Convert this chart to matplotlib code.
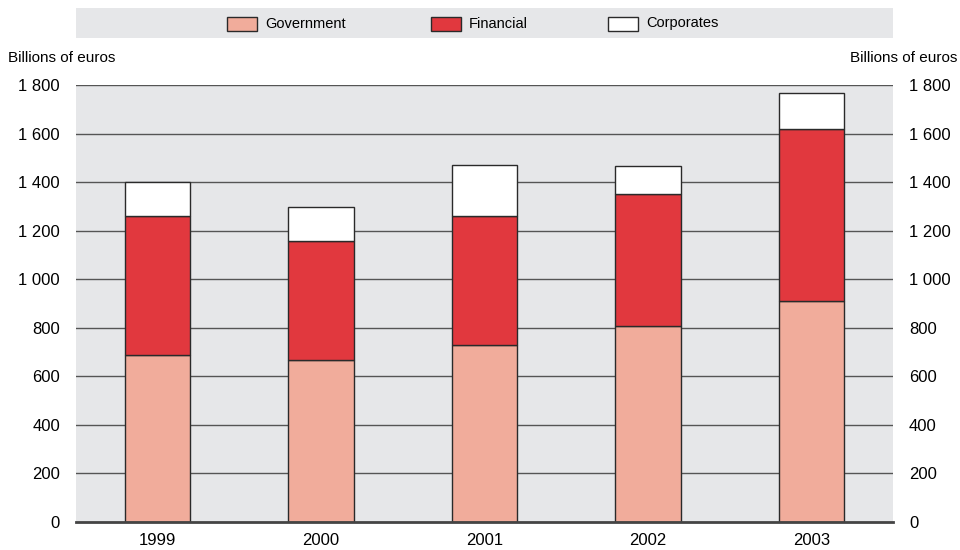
import matplotlib
matplotlib.use("Agg")
import matplotlib.pyplot as plt
from matplotlib.patches import Rectangle
from matplotlib.ticker import FuncFormatter
import numpy as np

# Debt securities issued, billions of euros
years = ["1999", "2000", "2001", "2002", "2003"]
government = [688, 666, 730, 808, 910]
financial = [573, 493, 530, 544, 707]
corporates = [139, 137, 210, 116, 151]

series_names = ["Government", "Financial", "Corporates"]
series_colors = ["#f1ac9b", "#e1383e", "#ffffff"]
y_ticks = [0, 200, 400, 600, 800, 1000, 1200, 1400, 1600, 1800]

plt.rcParams["font.family"] = ["Liberation Sans", "DejaVu Sans"]

W, H = 960, 550
fig = plt.figure(figsize=(9.6, 5.5), dpi=100)
ax = fig.add_axes([76 / W, 28 / H, 817 / W, 437 / H])
ax.set_facecolor("#e6e7e9")

x = np.arange(len(years))
width = 0.4
bottom = np.zeros(len(years))
for name, vals, col in zip(series_names, [government, financial, corporates], series_colors):
    ax.bar(x, vals, width, bottom=bottom, color=col, edgecolor="#2a2a2a",
           linewidth=1.0, label=name, zorder=3)
    bottom += np.array(vals)

ax.set_xlim(-0.5, len(years) - 0.5)
ax.set_ylim(0, 1800)
ax.set_yticks(y_ticks)
for t in y_ticks[1:]:
    ax.axhline(t, color="#555555", linewidth=1.0, zorder=1)
ax.axhline(0, color="#444444", linewidth=2.0, zorder=4, clip_on=False)

fmt = FuncFormatter(lambda v, p: f"{int(v):,}".replace(",", " "))
ax.yaxis.set_major_formatter(fmt)
ax.tick_params(axis="y", which="both", length=0, pad=11.5, labelsize=12,
               left=True, right=True, labelleft=True, labelright=True)
ax.tick_params(axis="x", length=0, pad=8, labelsize=12)
ax.set_xticks(x)
ax.set_xticklabels(years)
for side in ["top", "right", "left", "bottom"]:
    ax.spines[side].set_visible(False)

fig.text(8 / W, 1 - 58 / H, "Billions of euros", ha="left", va="center", fontsize=11)
fig.text(957 / W, 1 - 58 / H, "Billions of euros", ha="right", va="center", fontsize=11)

# Legend band above the plot
band = Rectangle((76 / W, 1 - 38 / H), 817 / W, 30 / H,
                 transform=fig.transFigure, facecolor="#e6e7e9", edgecolor="none")
fig.patches.append(band)
legend_x = [227, 431, 608]
for lx, name, col in zip(legend_x, series_names, series_colors):
    fig.patches.append(Rectangle((lx / W, 1 - 31 / H), 30 / W, 14 / H,
                                 transform=fig.transFigure, facecolor=col,
                                 edgecolor="#2a2a2a", linewidth=1.0))
    fig.text((lx + 38) / W, 1 - 23.5 / H, name, ha="left", va="center", fontsize=10.5)

fig.savefig("out.png", dpi=100)
